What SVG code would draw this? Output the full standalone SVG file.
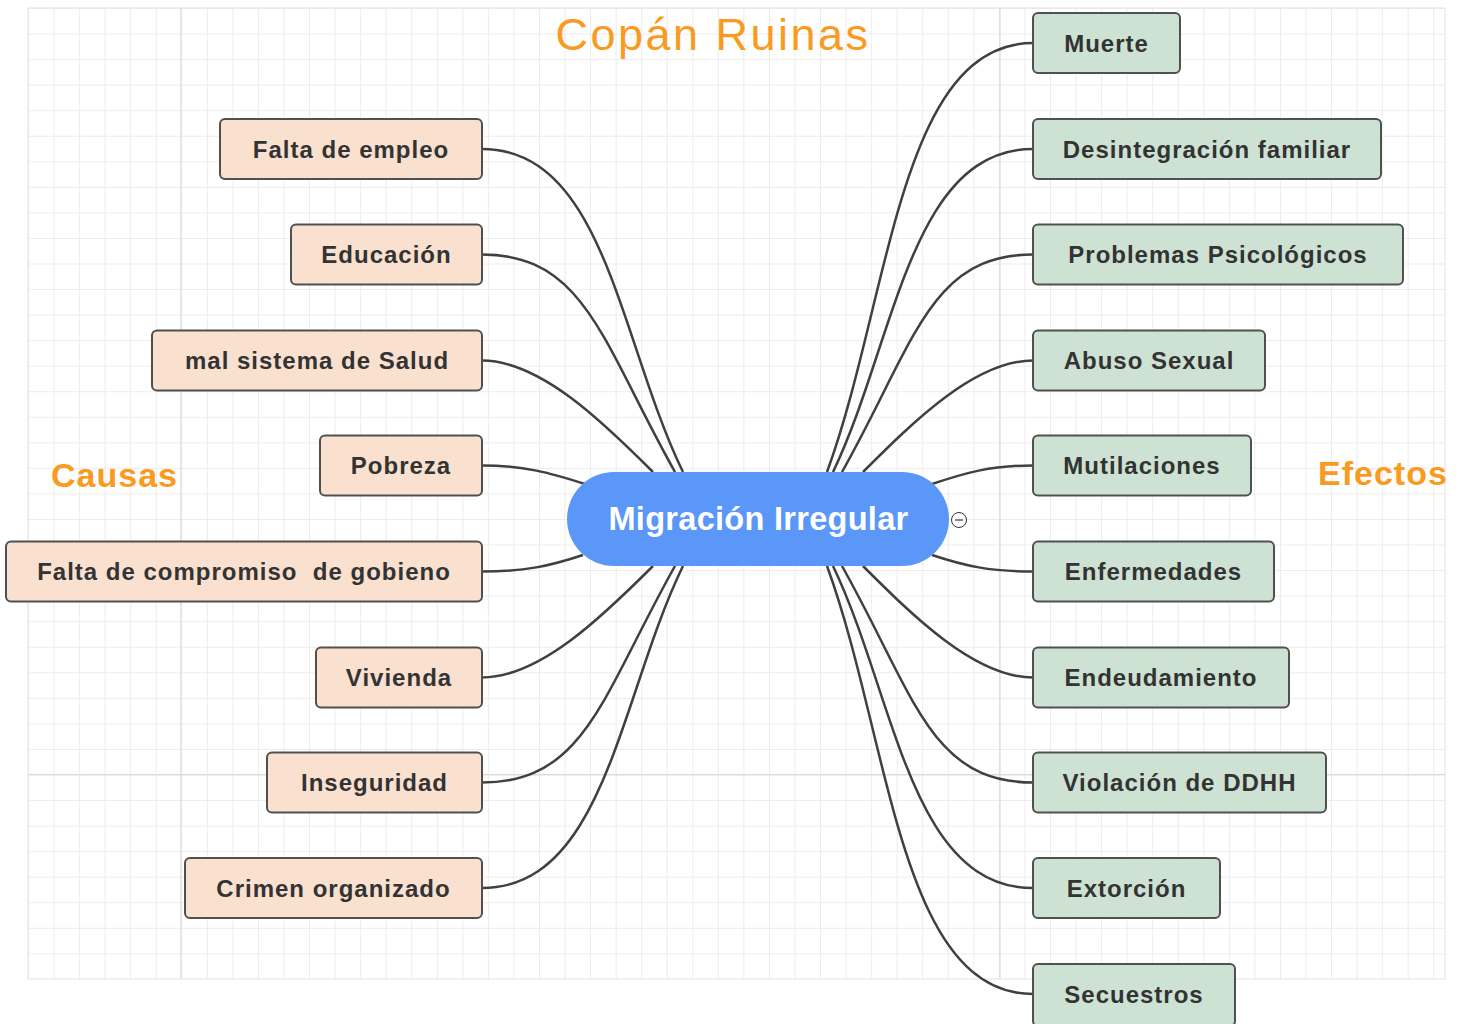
<svg xmlns="http://www.w3.org/2000/svg" width="1467" height="1024" viewBox="0 0 1467 1024">
<defs>
<pattern id="grid" patternUnits="userSpaceOnUse" x="28" y="8" width="25.55" height="25.55">
<rect x="0" y="0" width="25.55" height="1" fill="#ececec"/>
<rect x="0" y="0" width="1" height="25.55" fill="#ececec"/>
</pattern>
<style>
.cause rect{fill:#fae0cf;stroke:#505050;stroke-width:2}
.effect rect{fill:#cde2d3;stroke:#505050;stroke-width:2}
.lbl{font-family:"Liberation Sans",Arial,sans-serif;font-weight:bold;font-size:24px;letter-spacing:1px;fill:#333;text-anchor:middle;white-space:pre}
.hdr{font-family:"Liberation Sans",Arial,sans-serif;fill:#fa9a1e}
#connectors path{fill:none;stroke:#404040;stroke-width:2.5}
</style>
</defs>
<rect width="1467" height="1024" fill="#ffffff"/>
<g id="grid-bg">
<rect x="28" y="8" width="1417" height="971" fill="url(#grid)" stroke="#e3e3e3" stroke-width="1"/>
<path d="M181 8V979M1000 8V979M28 774.7H1445" stroke="#dadada" stroke-width="1.2" fill="none"/>
</g>
<g id="titles">
<text class="hdr" x="713" y="50" font-size="45" letter-spacing="2.5" text-anchor="middle">Copán Ruinas</text>
<text class="hdr" x="51" y="487" font-size="34" font-weight="bold" letter-spacing="1">Causas</text>
<text class="hdr" x="1318" y="485" font-size="34" font-weight="bold" letter-spacing="1">Efectos</text>
</g>
<g id="connectors">
<path d="M482,149 C605,149 620,343 683,472"/>
<path d="M482,254.5 C585,254.5 602,342 675,472"/>
<path d="M482,360.5 C540,360.5 603,422 653,472"/>
<path d="M482,465.5 C525,465.5 550,473 585,484"/>
<path d="M482,571.5 C525,571.5 550,566 583,555"/>
<path d="M482,677.5 C540,677.5 603,616 653,566"/>
<path d="M482,782.5 C585,782.5 602,696 675,566"/>
<path d="M482,888 C605,888 620,695 683,566"/>
<path d="M1033,43 C899,43 890,300 827,472"/>
<path d="M1033,149 C910,149 895,343 833,472"/>
<path d="M1033,254.5 C930,254.5 915,342 842,472"/>
<path d="M1033,360.5 C975,360.5 913,422 863,472"/>
<path d="M1033,465.5 C990,465.5 965,473 932,484"/>
<path d="M1033,571.5 C990,571.5 965,566 932,555"/>
<path d="M1033,677.5 C975,677.5 913,616 863,566"/>
<path d="M1033,782.5 C930,782.5 915,696 842,566"/>
<path d="M1033,888 C910,888 895,695 833,566"/>
<path d="M1033,994 C899,994 890,738 827,566"/>
</g>
<g id="center">
<rect x="567" y="472" width="382" height="94" rx="47" fill="#5a97f8"/>
<text x="758.5" y="530" font-family="'Liberation Sans',Arial,sans-serif" font-weight="bold" font-size="32.5" letter-spacing="0.3" fill="#ffffff" text-anchor="middle">Migración Irregular</text>
<circle cx="959" cy="520" r="7.5" fill="#ffffff" stroke="#333" stroke-width="1"/>
<path d="M955 520H963" stroke="#333" stroke-width="1.2"/>
</g>
<g id="c1" class="cause"><rect x="220" y="119" width="262" height="60" rx="5"/><text class="lbl" x="351" y="157.5">Falta de empleo</text></g>
<g id="c2" class="cause"><rect x="291" y="224.5" width="191" height="60" rx="5"/><text class="lbl" x="386.5" y="263">Educación</text></g>
<g id="c3" class="cause"><rect x="152" y="330.5" width="330" height="60" rx="5"/><text class="lbl" x="317" y="369">mal sistema de Salud</text></g>
<g id="c4" class="cause"><rect x="320" y="435.5" width="162" height="60" rx="5"/><text class="lbl" x="401" y="474">Pobreza</text></g>
<g id="c5" class="cause"><rect x="6" y="541.5" width="476" height="60" rx="5"/><text class="lbl" x="244" y="580" xml:space="preserve">Falta de compromiso  de gobieno</text></g>
<g id="c6" class="cause"><rect x="316" y="647.5" width="166" height="60" rx="5"/><text class="lbl" x="399" y="686">Vivienda</text></g>
<g id="c7" class="cause"><rect x="267" y="752.5" width="215" height="60" rx="5"/><text class="lbl" x="374.5" y="791">Inseguridad</text></g>
<g id="c8" class="cause"><rect x="185" y="858" width="297" height="60" rx="5"/><text class="lbl" x="333.5" y="896.5">Crimen organizado</text></g>
<g id="e1" class="effect"><rect x="1033" y="13" width="147" height="60" rx="5"/><text class="lbl" x="1106.5" y="52">Muerte</text></g>
<g id="e2" class="effect"><rect x="1033" y="119" width="348" height="60" rx="5"/><text class="lbl" x="1207" y="157.5">Desintegración familiar</text></g>
<g id="e3" class="effect"><rect x="1033" y="224.5" width="370" height="60" rx="5"/><text class="lbl" x="1218" y="263">Problemas Psicológicos</text></g>
<g id="e4" class="effect"><rect x="1033" y="330.5" width="232" height="60" rx="5"/><text class="lbl" x="1149" y="369">Abuso Sexual</text></g>
<g id="e5" class="effect"><rect x="1033" y="435.5" width="218" height="60" rx="5"/><text class="lbl" x="1142" y="474">Mutilaciones</text></g>
<g id="e6" class="effect"><rect x="1033" y="541.5" width="241" height="60" rx="5"/><text class="lbl" x="1153.5" y="580">Enfermedades</text></g>
<g id="e7" class="effect"><rect x="1033" y="647.5" width="256" height="60" rx="5"/><text class="lbl" x="1161" y="686">Endeudamiento</text></g>
<g id="e8" class="effect"><rect x="1033" y="752.5" width="293" height="60" rx="5"/><text class="lbl" x="1179.5" y="791">Violación de DDHH</text></g>
<g id="e9" class="effect"><rect x="1033" y="858" width="187" height="60" rx="5"/><text class="lbl" x="1126.5" y="896.5">Extorción</text></g>
<g id="e10" class="effect"><rect x="1033" y="964" width="202" height="62" rx="5"/><text class="lbl" x="1134" y="1002.5">Secuestros</text></g>
</svg>
